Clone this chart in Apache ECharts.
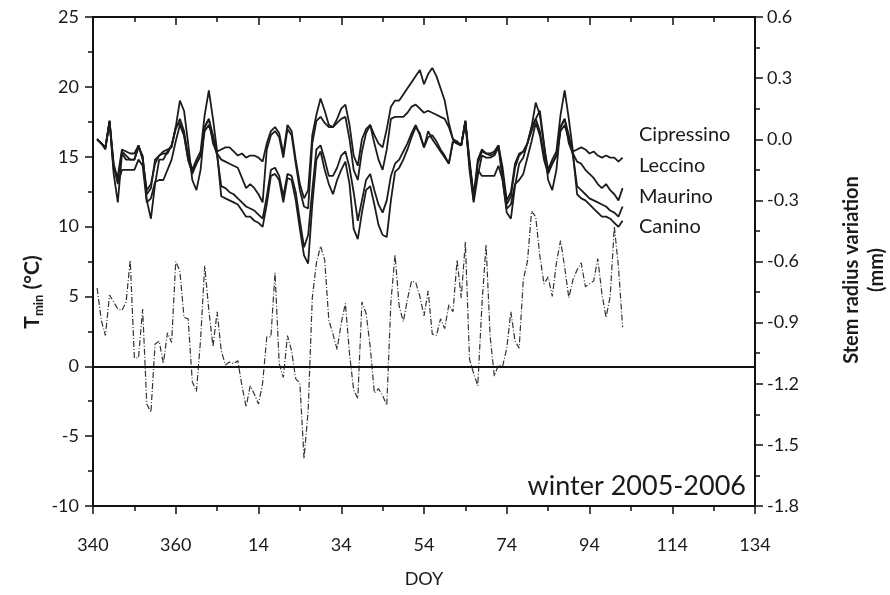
<!DOCTYPE html>
<html>
<head>
<meta charset="UTF-8">
<title>Stem radius variation - winter 2005-2006</title>
<script src="https://cdn.jsdelivr.net/npm/echarts@6/dist/echarts.min.js"></script>
</head>
<body style="margin:0;background:#fff">
<div id="box" style="width:890px;height:595px;"></div>

<script type="text/javascript">
// x position = continuous day count (day 366 of 2005 -> DOY 0 of 2006 on the axis)
var days=[341,342,343,344,345,346,347,348,349,350,
351,352,353,354,355,356,357,358,359,360,
361,362,363,364,365,366,367,368,369,370,
371,372,373,374,375,376,377,378,379,380,
381,382,383,384,385,386,387,388,389,390,
391,392,393,394,395,396,397,398,399,400,
401,402,403,404,405,406,407,408,409,410,
411,412,413,414,415,416,417,418,419,420,
421,422,423,424,425,426,427,428,429,430,
431,432,433,434,435,436,437,438,439,440,
441,442,443,444,445,446,447,448,449,450,
451,452,453,454,455,456,457,458,459,460,
461,462,463,464,465,466,467,468];

// minimum air temperature (°C), left axis
var tmin=[5.6,3.3,2.2,5.1,4.6,4.1,4.0,4.6,7.6,0.6,
0.6,4.1,-2.7,-3.3,1.6,1.8,0.2,2.4,1.7,7.5,
6.8,3.5,3.4,-1.1,-1.8,1.9,7.2,4.0,1.4,3.9,
1.1,0.1,0.3,0.2,0.4,-1.4,-2.9,-1.4,-2.0,-2.7,
-1.2,2.1,2.1,6.7,0.2,-0.8,2.2,1.1,-0.9,-1.2,
-6.6,-3.2,4.9,7.4,8.6,7.6,3.3,2.3,1.2,3.1,
4.5,0.9,-1.7,-2.3,4.6,3.8,1.4,-1.9,-1.6,-2.1,
-2.8,4.6,8.0,4.3,3.2,4.8,6.1,6.0,5.0,3.6,
5.4,2.3,2.2,3.4,2.7,4.4,3.9,7.6,4.9,8.9,
0.5,-0.5,-1.4,4.4,8.7,2.1,-0.7,0.1,0.0,1.3,
3.9,1.8,1.3,6.2,7.5,11.1,10.7,7.9,5.9,6.4,
5.0,7.4,9.0,7.1,4.9,6.2,6.9,7.4,5.7,5.9,
6.1,7.7,5.2,3.5,5.0,10.0,7.1,2.8];

// stem radius variation (mm), right axis
var cipressino=[0,-0.02,-0.04,0.09,-0.12,-0.20,-0.06,-0.08,-0.10,-0.10,
-0.03,-0.10,-0.25,-0.22,-0.12,-0.08,-0.07,-0.07,-0.03,0.05,
0.10,0.04,-0.08,-0.15,-0.10,-0.06,0.12,0.24,0.10,-0.06,
-0.05,-0.04,-0.04,-0.06,-0.08,-0.07,-0.09,-0.08,-0.08,-0.09,
-0.11,-0.02,0.04,0.06,0.03,-0.07,0.07,0.04,-0.10,-0.22,
-0.29,-0.25,0.02,0.12,0.20,0.14,0.07,0.06,0.10,0.15,
0.17,0.07,-0.08,-0.13,0.00,0.05,0.07,0.02,-0.02,-0.04,
0.05,0.16,0.19,0.19,0.22,0.25,0.28,0.31,0.34,0.27,
0.32,0.35,0.31,0.25,0.19,0.08,0.00,-0.01,-0.03,0.09,
-0.10,-0.28,-0.10,-0.05,-0.07,-0.07,-0.06,-0.03,-0.14,-0.30,
-0.26,-0.12,-0.07,-0.06,-0.02,0.06,0.18,0.12,-0.03,-0.15,
-0.10,-0.06,0.12,0.24,0.10,-0.06,-0.05,-0.04,-0.05,-0.07,
-0.06,-0.08,-0.09,-0.08,-0.09,-0.09,-0.11,-0.09];
var leccino=[0,-0.02,-0.04,0.09,-0.15,-0.18,-0.05,-0.06,-0.07,-0.07,
-0.03,-0.09,-0.27,-0.24,-0.10,-0.08,-0.06,-0.05,-0.04,0.06,
0.08,0.02,-0.10,-0.16,-0.12,-0.08,0.06,0.10,-0.02,-0.07,
-0.10,-0.11,-0.12,-0.13,-0.14,-0.19,-0.24,-0.22,-0.24,-0.27,
-0.31,-0.05,0.02,0.04,0.01,-0.09,0.05,0.02,-0.12,-0.25,
-0.33,-0.34,-0.02,0.09,0.11,0.08,0.06,0.06,0.08,0.10,
0.11,0.00,-0.15,-0.20,-0.06,0.03,0.07,-0.02,-0.10,-0.15,
-0.05,0.10,0.11,0.11,0.11,0.13,0.16,0.17,0.15,0.13,
0.14,0.13,0.12,0.11,0.10,0.06,0.00,-0.02,-0.03,0.09,
-0.12,-0.30,-0.12,-0.06,-0.07,-0.08,-0.07,-0.03,-0.17,-0.32,
-0.28,-0.14,-0.08,-0.06,-0.02,0.04,0.10,0.04,-0.08,-0.16,
-0.12,-0.08,0.06,0.10,-0.02,-0.07,-0.11,-0.12,-0.15,-0.17,
-0.19,-0.22,-0.24,-0.22,-0.25,-0.27,-0.30,-0.24];
var maurino=[0,-0.02,-0.04,0.08,-0.13,-0.22,-0.15,-0.15,-0.15,-0.15,
-0.10,-0.13,-0.31,-0.29,-0.21,-0.20,-0.20,-0.15,-0.10,-0.01,
0.07,0.02,-0.10,-0.17,-0.12,-0.08,0.04,0.07,0.00,-0.08,
-0.23,-0.24,-0.26,-0.27,-0.29,-0.31,-0.33,-0.34,-0.35,-0.37,
-0.39,-0.28,-0.15,-0.14,-0.18,-0.28,-0.17,-0.18,-0.26,-0.40,
-0.53,-0.47,-0.25,-0.05,-0.03,-0.10,-0.18,-0.18,-0.14,-0.08,
-0.06,-0.14,-0.26,-0.40,-0.30,-0.20,-0.17,-0.25,-0.32,-0.36,
-0.30,-0.18,-0.12,-0.10,-0.06,-0.02,0.03,0.07,0.02,-0.04,
0.04,0.00,-0.03,-0.06,-0.09,-0.12,-0.01,-0.02,-0.03,0.08,
-0.12,-0.27,-0.15,-0.18,-0.18,-0.18,-0.18,-0.13,-0.20,-0.34,
-0.32,-0.22,-0.20,-0.17,-0.09,-0.01,0.08,0.02,-0.10,-0.17,
-0.12,-0.08,0.04,0.07,0.00,-0.08,-0.23,-0.25,-0.27,-0.29,
-0.30,-0.31,-0.32,-0.33,-0.35,-0.36,-0.38,-0.33];
var canino=[0,-0.02,-0.05,0.09,-0.17,-0.31,-0.07,-0.10,-0.10,-0.10,
-0.04,-0.08,-0.30,-0.39,-0.22,-0.10,-0.10,-0.06,-0.03,0.06,
0.19,0.14,-0.02,-0.20,-0.25,-0.15,0.06,0.10,0.02,-0.07,
-0.28,-0.29,-0.30,-0.31,-0.32,-0.35,-0.38,-0.38,-0.40,-0.41,
-0.43,-0.32,-0.18,-0.17,-0.20,-0.31,-0.19,-0.20,-0.30,-0.44,
-0.57,-0.61,-0.32,-0.10,-0.06,-0.15,-0.22,-0.27,-0.20,-0.15,
-0.11,-0.22,-0.44,-0.49,-0.36,-0.25,-0.23,-0.32,-0.42,-0.47,
-0.48,-0.30,-0.16,-0.14,-0.10,-0.05,0.01,0.06,0.03,-0.04,
0.01,0.02,-0.01,-0.05,-0.08,-0.12,-0.01,-0.02,-0.03,0.09,
-0.15,-0.31,-0.18,-0.08,-0.09,-0.09,-0.08,-0.04,-0.20,-0.36,
-0.39,-0.23,-0.12,-0.09,-0.02,0.06,0.10,0.14,-0.02,-0.20,
-0.25,-0.15,0.06,0.10,0.02,-0.07,-0.27,-0.29,-0.30,-0.32,
-0.34,-0.36,-0.38,-0.38,-0.39,-0.41,-0.43,-0.40];

// DOY labels shown under the x ticks (340 ... 500 step 20)
var doyLabels=['340','360','14','34','54','74','94','114','134'];
var cultivars=['Cipressino','Leccino','Maurino','Canino'];

function pairs(arr){
  return days.map(function(d,i){ return [d,arr[i]]; });
}

var txt='#1a1a1a';
var font='Lato';
var frame={onZero:false,lineStyle:{color:'#111',width:2}};

var mychart=echarts.init(document.getElementById('box'));

var stemSeries=[cipressino,leccino,maurino,canino].map(function(arr,k){
  return {
    name:cultivars[k],
    type:'line',
    xAxisIndex:0,
    yAxisIndex:1,
    data:pairs(arr),
    showSymbol:false,
    symbol:'none',
    lineStyle:{color:'#1c1c1c',width:1.8},
    z:3
  };
});

mychart.setOption({
  animation:false,
  backgroundColor:'#fff',
  grid:{left:93,right:135,top:17,bottom:89},
  xAxis:[{
    type:'value',min:340,max:500,interval:20,
    position:'bottom',
    axisLine:frame,
    axisTick:{show:true,length:8,lineStyle:{color:'#111',width:1.5}},
    minorTick:{show:true,splitNumber:2,length:5,lineStyle:{color:'#111',width:1.5}},
    splitLine:{show:false},
    axisLabel:{
      margin:30,color:txt,fontFamily:font,fontSize:18,
      formatter:function(v){ return doyLabels[Math.round((v-340)/20)]; }
    },
    name:'DOY',nameLocation:'middle',nameGap:64,
    nameTextStyle:{color:txt,fontFamily:font,fontSize:18}
  },{
    type:'value',min:340,max:500,interval:20,
    position:'top',
    axisLine:frame,
    axisTick:{show:true,inside:true,length:8,lineStyle:{color:'#111',width:1.5}},
    minorTick:{show:true,splitNumber:2,length:5,lineStyle:{color:'#111',width:1.5}},
    splitLine:{show:false},
    axisLabel:{show:false}
  }],
  yAxis:[{
    type:'value',min:-10,max:25,interval:5,
    position:'left',
    axisLine:frame,
    axisTick:{show:true,length:8,lineStyle:{color:'#111',width:1.5}},
    minorTick:{show:true,splitNumber:2,length:5,lineStyle:{color:'#111',width:1.5}},
    splitLine:{show:false},
    axisLabel:{margin:14,color:txt,fontFamily:font,fontSize:18}
  },{
    type:'value',min:-1.8,max:0.6,interval:0.3,
    position:'right',
    axisLine:frame,
    axisTick:{show:true,length:8,lineStyle:{color:'#111',width:1.5}},
    minorTick:{show:true,splitNumber:2,length:5,lineStyle:{color:'#111',width:1.5}},
    splitLine:{show:false},
    axisLabel:{
      margin:12,color:txt,fontFamily:font,fontSize:18,
      formatter:function(v){ return v.toFixed(1); }
    }
  }],
  graphic:[
    {type:'text',x:32,y:292,rotation:Math.PI/2,
     style:{text:'{a|T}{b|min}{a| (°C)}',align:'center',verticalAlign:'middle',
       rich:{a:{fontFamily:font,fontWeight:'bold',fontSize:21,fill:txt,lineHeight:26,verticalAlign:'middle'},
             b:{fontFamily:font,fontWeight:'bold',fontSize:13,fill:txt,lineHeight:26,verticalAlign:'bottom',padding:[10,0,0,0]}}}},
    {type:'text',x:864,y:270,rotation:Math.PI/2,
     style:{text:'Stem radius variation\n(mm)',align:'center',verticalAlign:'middle',
       fontFamily:font,fontWeight:'bold',fontSize:20,lineHeight:25,fill:txt}},
    {type:'text',x:639,y:135,style:{text:cultivars[0],fontFamily:font,fontSize:20,fill:txt,verticalAlign:'middle'}},
    {type:'text',x:639,y:166,style:{text:cultivars[1],fontFamily:font,fontSize:20,fill:txt,verticalAlign:'middle'}},
    {type:'text',x:639,y:197,style:{text:cultivars[2],fontFamily:font,fontSize:20,fill:txt,verticalAlign:'middle'}},
    {type:'text',x:639,y:227,style:{text:cultivars[3],fontFamily:font,fontSize:20,fill:txt,verticalAlign:'middle'}},
    {type:'text',x:746,y:486,style:{text:'winter 2005-2006',fontFamily:font,fontSize:27,fill:txt,align:'right',verticalAlign:'middle'}}
  ],
  series:[{
    name:'Tmin',
    type:'line',
    xAxisIndex:0,
    yAxisIndex:0,
    data:pairs(tmin),
    showSymbol:false,
    symbol:'none',
    lineStyle:{color:'#333',width:1.2,type:[6,2,1,2]},
    markLine:{
      silent:true,symbol:'none',label:{show:false},
      lineStyle:{color:'#111',width:2,type:'solid'},
      data:[{yAxis:0}]
    },
    z:2
  }].concat(stemSeries)
});
</script>
</body>
</html>
